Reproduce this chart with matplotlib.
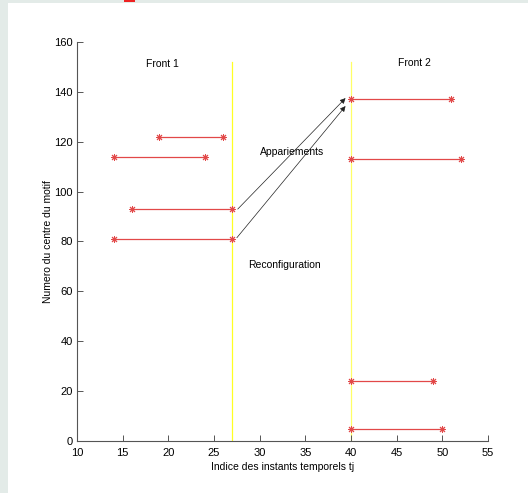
import matplotlib
matplotlib.use("Agg")
import matplotlib.pyplot as plt
from matplotlib.patches import Rectangle

plt.rcParams['font.family'] = ['Liberation Sans Narrow', 'Liberation Sans', 'DejaVu Sans']

# segments: (y, x_start, x_end)
seg_y = [122, 114, 93, 81, 137, 113, 24, 5]
seg_x0 = [19, 14, 16, 14, 40, 40, 40, 40]
seg_x1 = [26, 24, 27, 27, 51, 52, 49, 50]

# vertical front lines
front_x = [27, 40]
front_col = ['#ffff22', '#ffff66']
front_top = 152

# arrows (start -> end)
arrow_start = [(27.6, 93), (27.5, 81.5)]
arrow_end = [(39.4, 137.5), (39.4, 134.3)]

fig = plt.figure(figsize=(5.28, 4.93), dpi=100)
fig.patch.set_facecolor('white')
# grey frame of the original capture
fig.patches.append(Rectangle((0, 0), 8 / 528, 1, transform=fig.transFigure,
                             facecolor='#e3ebe8', edgecolor='none'))
fig.patches.append(Rectangle((0, 1 - 3 / 493), 1, 3 / 493, transform=fig.transFigure,
                             facecolor='#e3ebe8', edgecolor='none'))
fig.patches.append(Rectangle((124 / 528, 1 - 2 / 493), 11 / 528, 2 / 493,
                             transform=fig.transFigure, facecolor='#ee2222', edgecolor='none'))

ax = fig.add_axes([77 / 528, 1 - 441 / 493, 411 / 528, 399 / 493])

for xf, c in zip(front_x, front_col):
    ax.plot([xf, xf], [0, front_top], color=c, lw=0.9, zorder=1)

for y, x0, x1 in zip(seg_y, seg_x0, seg_x1):
    ax.plot([x0, x1], [y, y], color='#e24848', lw=0.9, marker=(8, 2, 0),
            markersize=5, markeredgewidth=0.7, zorder=2)

for s, e in zip(arrow_start, arrow_end):
    ax.annotate('', xy=e, xytext=s,
                arrowprops=dict(arrowstyle='-|>', color='#222222', lw=0.5,
                                mutation_scale=8, shrinkA=0, shrinkB=0))

ax.text(19.3, 151, 'Front 1', fontsize=7.5, ha='center', va='center')
ax.text(46.9, 151.5, 'Front 2', fontsize=7.5, ha='center', va='center')
ax.text(33.5, 116, 'Appariements', fontsize=7.5, ha='center', va='center')
ax.text(32.7, 70.5, 'Reconfiguration', fontsize=7.5, ha='center', va='center')

ax.set_xlim(10, 55)
ax.set_ylim(0, 160)
ax.set_xticks(range(10, 56, 5))
ax.set_yticks(range(0, 161, 20))
ax.tick_params(direction='in', length=4, width=0.7, color='#555555',
               labelsize=8)
ax.tick_params(axis='x', pad=5)
ax.tick_params(axis='y', pad=3)
for side in ['top', 'right']:
    ax.spines[side].set_visible(False)
for side in ['left', 'bottom']:
    ax.spines[side].set_color('#555555')
    ax.spines[side].set_linewidth(0.8)

ax.set_xlabel('Indice des instants temporels tj', fontsize=7.5, labelpad=3)
ax.set_ylabel('Numero du centre du motif', fontsize=7.5, labelpad=1)

fig.savefig('out.png', dpi=100)
